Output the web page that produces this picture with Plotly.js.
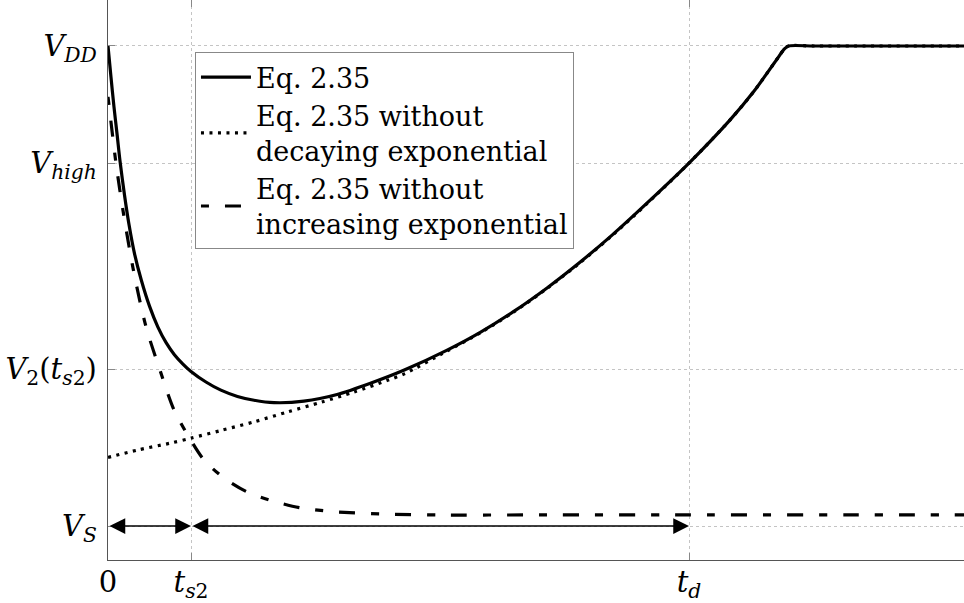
<!DOCTYPE html>
<html>
<head>
<meta charset="utf-8">
<script src="https://cdn.plot.ly/plotly-3.0.1.min.js"></script>
<style>
html,body{margin:0;padding:0;overflow:hidden;background:#fff;width:964px;height:603px;}
#chart{width:1000px;height:603px;}
</style>
</head>
<body>
<div id="chart"></div>
<script>
// Tick positions (normalised units: t_s2 = 1, V_S = 0, V_DD = 1)
const xTickVals = [0, 1, 7];
const xTickText = ['0', '<i>t</i><sub><i>s</i>2</sub>', '<i>t</i><sub><i>d</i></sub>'];
const yTickVals = [0, 0.327, 0.756, 1.0];
const yTickText = ['<i>V</i><sub><i>S</i></sub>', '<i>V</i><sub>2</sub>(<i>t</i><sub><i>s</i>2</sub>)', '<i>V</i><sub><i>high</i></sub>', '<i>V</i><sub><i>DD</i></sub>'];

// Eq. 2.35 (full)
const tFull = [0, 0.036, 0.072, 0.11, 0.145, 0.2, 0.253, 0.32, 0.4, 0.5, 0.6, 0.7, 0.8, 0.9, 1.0, 1.18, 1.36, 1.56, 1.76, 2.0, 2.36, 2.76, 3.17, 3.57, 4.08, 4.48, 4.88, 5.29, 5.69, 6.08, 6.49, 7.0, 7.49, 7.78, 8.07, 8.15, 8.2, 8.5, 9.0, 10.0, 11];
const vFull = [1.0, 0.935, 0.873, 0.815, 0.760, 0.688, 0.628, 0.567, 0.513, 0.458, 0.415, 0.382, 0.357, 0.338, 0.322, 0.300, 0.283, 0.270, 0.262, 0.257, 0.260, 0.274, 0.298, 0.325, 0.366, 0.403, 0.446, 0.496, 0.550, 0.607, 0.672, 0.756, 0.845, 0.905, 0.975, 0.994, 1.0, 1.0, 1.0, 1.0, 1.0];

// Eq. 2.35 without decaying exponential
const tNoDecay = [0, 0.35, 0.76, 1.0, 1.36, 1.76, 2.16, 2.57, 2.96, 3.36, 3.57, 4.08, 4.48, 4.88, 5.29, 5.69, 6.08, 6.49, 7.0, 7.49, 7.78, 8.07, 8.15, 8.2, 8.5, 9.0, 10.0, 11];
const vNoDecay = [0.143, 0.158, 0.173, 0.183, 0.199, 0.217, 0.2375, 0.258, 0.279, 0.303, 0.317, 0.364, 0.402, 0.445, 0.495, 0.549, 0.606, 0.671, 0.756, 0.845, 0.905, 0.975, 0.994, 1.0, 1.0, 1.0, 1.0, 1.0];

// Eq. 2.35 without increasing exponential
const tNoInc = [0, 0.012, 0.096, 0.193, 0.313, 0.458, 0.614, 0.795, 0.976, 1.157, 1.398, 1.675, 1.988, 2.313, 2.711, 3.313, 4.0, 5.0, 7.0, 9.0, 11];
const vNoInc = [0.894, 0.877, 0.756, 0.644, 0.527, 0.415, 0.331, 0.242, 0.185, 0.1375, 0.100, 0.071, 0.052, 0.038, 0.030, 0.025, 0.023, 0.023, 0.023, 0.023, 0.023];

const FONT = 'DejaVu Serif';

const traces = [
  {x: tNoDecay, y: vNoDecay, mode: 'lines', name: 'Eq. 2.35 without<br>decaying exponential',
   line: {color: '#000', width: 3.2, dash: '3px,5.5px', shape: 'spline', smoothing: 0.8}, legendrank: 2},
  {x: tNoInc, y: vNoInc, mode: 'lines', name: 'Eq. 2.35 without<br>increasing exponential',
   line: {color: '#000', width: 3.2, dash: '8px,16px,16px,16px', shape: 'spline', smoothing: 0.8}, legendrank: 3},
  {x: tFull, y: vFull, mode: 'lines', name: 'Eq. 2.35',
   line: {color: '#000', width: 3.2, shape: 'spline', smoothing: 0.8}, legendrank: 1}
];

const ts2 = xTickVals[1], td = xTickVals[2], vs = yTickVals[0];
const arrowCommon = {xref: 'x', yref: 'y', axref: 'x', ayref: 'y', text: '', showarrow: true,
  arrowhead: 2, startarrowhead: 2, arrowside: 'end+start', arrowsize: 2.1, startarrowsize: 2.1,
  arrowwidth: 1.5, arrowcolor: '#000', standoff: 0, startstandoff: 0};

const layout = {
  width: 1000, height: 603,
  margin: {l: 108, r: 0, t: 0, b: 43},
  paper_bgcolor: '#fff', plot_bgcolor: '#fff',
  font: {family: FONT, size: 29, color: '#000'},
  showlegend: true,
  legend: {x: 0.0975, y: 0.907, xanchor: 'left', yanchor: 'top',
    bgcolor: '#fff', bordercolor: '#888', borderwidth: 1,
    font: {family: FONT, size: 27, color: '#000'}, itemwidth: 50, tracegroupgap: 0},
  xaxis: {range: [0, 10.747], tickmode: 'array', tickvals: xTickVals, ticktext: xTickText,
    showgrid: true, gridcolor: '#c4c4c4', griddash: 'dot', gridwidth: 1,
    zeroline: false, showline: true, linecolor: '#555', linewidth: 1.3, mirror: 'allticks',
    ticks: 'inside', ticklen: 7, tickcolor: '#888', tickwidth: 1,
    tickfont: {family: FONT, size: 29, color: '#000'}, ticklabelstandoff: -4},
  yaxis: {range: [-0.0708, 1.0958], tickmode: 'array', tickvals: yTickVals, ticktext: yTickText,
    showgrid: true, gridcolor: '#c4c4c4', griddash: 'dot', gridwidth: 1,
    zeroline: false, showline: true, linecolor: '#555', linewidth: 1.3, mirror: 'allticks',
    ticks: 'inside', ticklen: 7, tickcolor: '#888', tickwidth: 1,
    tickfont: {family: FONT, size: 29, color: '#000'}, ticklabelstandoff: 4},
  annotations: [
    Object.assign({}, arrowCommon, {x: ts2, y: vs, ax: 0, ay: vs}),
    Object.assign({}, arrowCommon, {x: td, y: vs, ax: ts2, ay: vs})
  ]
};

Plotly.newPlot('chart', traces, layout, {displayModeBar: false, staticPlot: true});
</script>
</body>
</html>
